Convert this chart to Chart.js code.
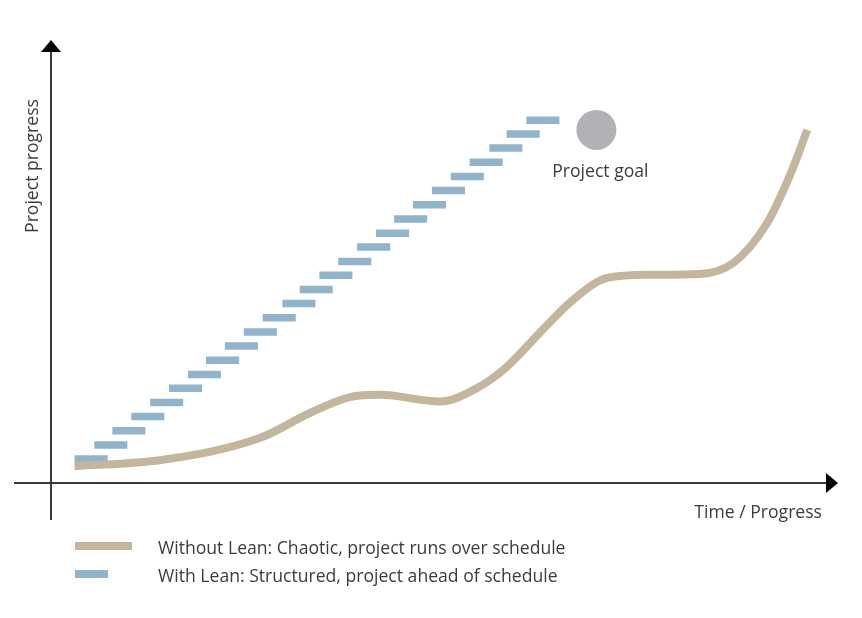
<!DOCTYPE html>
<html>
<head>
<meta charset="utf-8">
<script src="https://cdn.jsdelivr.net/npm/chart.js@4.4.1/dist/chart.umd.min.js"></script>
<style>
  html, body { margin: 0; padding: 0; background: #fff; }
  #lean_chart { display: block; }
</style>
</head>
<body>
<canvas id="lean_chart" width="862" height="618"></canvas>
<script>
// progress without lean (smooth curve), x = time, y = progress
var chaoticTime = [3.0, 14.0, 26.6, 32.9, 38.0, 41.8, 49.4, 54.1, 57.9, 62.1, 66.3, 70.7, 76.1, 82.5, 86.7, 91.0, 93.9, 96.1];
var chaoticProgress = [3.8, 5.2, 10.2, 15.8, 19.4, 19.9, 18.4, 21.4, 26.2, 33.9, 41.3, 46.3, 47.0, 47.2, 49.7, 58.7, 69.5, 79.7];

// progress with lean (one step per work package)
var stepStart = [3.0, 5.5, 7.8, 10.2, 12.6, 15.0, 17.4, 19.7, 22.1, 24.5, 26.9, 29.4, 31.6, 34.1, 36.5, 38.9, 41.3, 43.6, 46.0, 48.4, 50.8, 53.2, 55.7, 57.9, 60.4];
var stepEnd = [7.2, 9.7, 12.0, 14.4, 16.8, 19.2, 21.6, 23.9, 26.3, 28.7, 31.1, 33.6, 35.8, 38.3, 40.7, 43.1, 45.5, 47.8, 50.2, 52.6, 55.0, 57.4, 59.9, 62.1, 64.6];
var stepProgress = [5.4, 8.6, 11.8, 15.0, 18.2, 21.4, 24.5, 27.7, 30.9, 34.1, 37.3, 40.5, 43.7, 46.9, 50.0, 53.3, 56.4, 59.6, 62.8, 66.0, 69.2, 72.4, 75.6, 78.8, 81.9];

// project goal marker
var goalTime = 69.3;
var goalProgress = 79.7;
var goalLabel = 'Project goal';

var xAxisTitle = 'Time / Progress';
var yAxisTitle = 'Project progress';
var seriesLabels = ['Without Lean: Chaotic, project runs over schedule', 'With Lean: Structured, project ahead of schedule'];

var textFont = '17.6px "Open Sans", "Noto Sans", sans-serif';
var textColor = '#3c3c3c';

var $each = function(arr, fn){ for (var i = 0; i < arr.length; i++) fn(i, arr[i]); };
var chaotic_data = [];
$each(chaoticTime, function(i, t){
    chaotic_data.push({x: t, y: chaoticProgress[i]});
});
var lean_data = [];
$each(stepStart, function(i, t){
    lean_data.push({x: t, y: stepProgress[i]});
    lean_data.push({x: stepEnd[i], y: stepProgress[i]});
    lean_data.push({x: stepEnd[i], y: null});
});

var axesPlugin = {
    id: 'arrowAxes',
    beforeDatasetsDraw: function(chart){
        var ctx = chart.ctx;
        var xs = chart.scales.x, ys = chart.scales.y;
        var x0 = xs.getPixelForValue(0), y0 = ys.getPixelForValue(0);
        var area = chart.chartArea;
        ctx.save();
        ctx.strokeStyle = '#3a3a3a';
        ctx.fillStyle = '#000';
        ctx.lineWidth = 2;
        // y axis
        ctx.beginPath();
        ctx.moveTo(x0, area.bottom);
        ctx.lineTo(x0, area.top + 10);
        ctx.stroke();
        ctx.beginPath();
        ctx.moveTo(x0, area.top);
        ctx.lineTo(x0 + 10, area.top + 12);
        ctx.lineTo(x0 - 10, area.top + 12);
        ctx.closePath();
        ctx.fill();
        // x axis
        ctx.beginPath();
        ctx.moveTo(area.left, y0);
        ctx.lineTo(area.right - 10, y0);
        ctx.stroke();
        ctx.beginPath();
        ctx.moveTo(area.right, y0);
        ctx.lineTo(area.right - 12, y0 - 10);
        ctx.lineTo(area.right - 12, y0 + 10);
        ctx.closePath();
        ctx.fill();
        ctx.restore();
    },
    afterDraw: function(chart){
        var ctx = chart.ctx;
        var xs = chart.scales.x, ys = chart.scales.y;
        var area = chart.chartArea;
        ctx.save();
        ctx.font = textFont;
        ctx.fillStyle = textColor;
        ctx.textBaseline = 'middle';
        // axis titles
        ctx.textAlign = 'right';
        ctx.fillText(xAxisTitle, area.right - 16, ys.getPixelForValue(0) + 30);
        ctx.save();
        ctx.translate(xs.getPixelForValue(0) - 18, 166);
        ctx.rotate(-Math.PI / 2);
        ctx.textAlign = 'center';
        ctx.fillText(yAxisTitle, 0, 0);
        ctx.restore();
        // goal label
        ctx.textAlign = 'center';
        ctx.fillText(goalLabel, xs.getPixelForValue(goalTime) + 4, ys.getPixelForValue(goalProgress) + 42);
        // legend
        ctx.textAlign = 'left';
        var legendY = [546, 574];
        var legendLen = [57, 33];
        $each(seriesLabels, function(i, label){
            var ds = chart.data.datasets[i];
            ctx.strokeStyle = ds.borderColor;
            ctx.lineWidth = 8;
            ctx.lineCap = 'butt';
            ctx.beginPath();
            ctx.moveTo(75, legendY[i]);
            ctx.lineTo(75 + legendLen[i], legendY[i]);
            ctx.stroke();
            ctx.fillText(label, 158, legendY[i] + 3);
        });
        ctx.restore();
    }
};

var ctx = document.getElementById('lean_chart').getContext('2d');
var lean_chart = new Chart(ctx, {
    type: 'scatter',
    data: {
        datasets: [{
            label: seriesLabels[0],
            data: chaotic_data,
            showLine: true,
            borderColor: 'rgb(196, 182, 156)',
            borderWidth: 8,
            borderCapStyle: 'butt',
            cubicInterpolationMode: 'monotone',
            pointRadius: 0,
        },{
            label: seriesLabels[1],
            data: lean_data,
            showLine: true,
            spanGaps: false,
            borderColor: 'rgb(143, 180, 204)',
            borderWidth: 7.5,
            borderCapStyle: 'butt',
            tension: 0,
            pointRadius: 0,
        },{
            label: goalLabel,
            data: [{x: goalTime, y: goalProgress}],
            pointRadius: 20,
            pointHoverRadius: 20,
            pointBackgroundColor: 'rgb(178, 177, 181)',
            pointBorderWidth: 0,
        }]
    },
    options: {
        responsive: false,
        animation: false,
        layout: { autoPadding: false, padding: { left: 14, right: 24, top: 40, bottom: 98 } },
        plugins: { legend: { display: false }, tooltip: { enabled: false } },
        scales: {
            x: { type: 'linear', display: false, min: -4.7, max: 100 },
            y: { type: 'linear', display: false, min: -8.35, max: 100 }
        }
    },
    plugins: [axesPlugin]
});
</script>
</body>
</html>
